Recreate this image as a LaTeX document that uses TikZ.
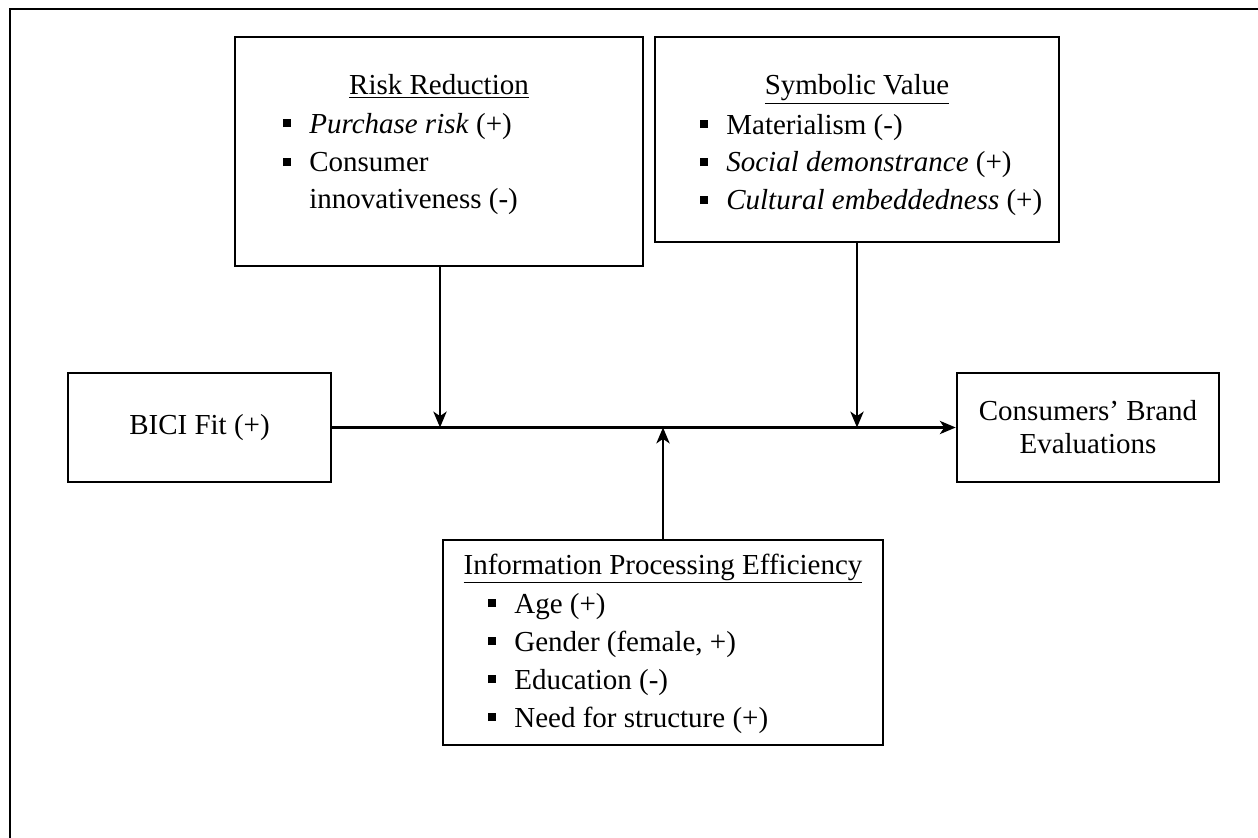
\documentclass[tikz,border=0pt]{standalone}
\usepackage{fontspec}
\setmainfont{Liberation Serif}
\usepackage{tikz}
\usetikzlibrary{arrows.meta}
\newlength{\pxu}
\setlength{\pxu}{0.02cm}
\newcommand{\bsq}{\makebox[26\pxu][l]{\rule[0.2em]{4.4pt}{4.4pt}}}

\begin{document}
\begin{tikzpicture}[x=0.02cm,y=-0.02cm,font=\fontsize{16.5}{18.7}\selectfont,
	box/.style={draw,line width=1.5pt,inner sep=0pt},
	item/.style={anchor=base west,inner sep=0pt},
	conn/.style={line width=1.4pt,-{Stealth[length=9pt,width=7.5pt,inset=2.5pt]}}]
	\useasboundingbox (0,0) rectangle (1258,838);
	\draw[line width=1.7pt] (10,838) -- (10,9) -- (1258,9);
	% outer boxes
	\node[box,minimum width=5.26cm,minimum height=2.18cm] (bici) at (199.5,427.5) {BICI Fit (+)};
	\node[box,minimum width=5.24cm,minimum height=2.18cm,align=center] (cons) at (1088,427.5) {Consumers' Brand\\Evaluations};
	% moderators
	\node[box,minimum width=8.16cm,minimum height=4.58cm] (risk) at (439,151.5) {};
	\node[box,minimum width=8.08cm,minimum height=4.1cm] (sym) at (857,139.5) {};
	\node[box,minimum width=8.8cm,minimum height=4.1cm] (info) at (663,642.5) {};
	% risk reduction
	\node[anchor=base,inner sep=0pt] (risktitle) at (439,95) {\underline{Risk Reduction}};
	\node[item] (risk1) at (283,133) {\bsq\textit{Purchase risk} (+)};
	\node[item] (risk2) at (283,172) {\bsq Consumer};
	\node[item] (risk3) at (309,208) {innovativeness (-)};
	% symbolic value
	\node[anchor=base,inner sep=0pt] (symtitle) at (857,95) {\underline{Symbolic Value}};
	\node[item] (sym1) at (700,134) {\bsq Materialism (-)};
	\node[item] (sym2) at (700,172) {\bsq\textit{Social demonstrance} (+)};
	\node[item] (sym3) at (700,210) {\bsq\textit{Cultural embeddedness} (+)};
	% information processing
	\node[anchor=base,inner sep=0pt] (infotitle) at (663,574) {\underline{Information Processing Efficiency}};
	\node[item] (info1) at (488,613) {\bsq Age (+)};
	\node[item] (info2) at (488,651) {\bsq Gender (female, +)};
	\node[item] (info3) at (488,689) {\bsq Education (-)};
	\node[item] (info4) at (488,727) {\bsq Need for structure (+)};
	% connectors
	\coordinate (j1) at (440,427.5);
	\coordinate (j2) at (857,427.5);
	\coordinate (j3) at (663,427.5);
	\draw[conn] (bici.east) -- (cons.west);
	\draw[conn] (risk.south -| j1) -- (j1);
	\draw[conn] (sym.south -| j2) -- (j2);
	\draw[conn] (info.north -| j3) -- (j3);
\end{tikzpicture}
\end{document}
